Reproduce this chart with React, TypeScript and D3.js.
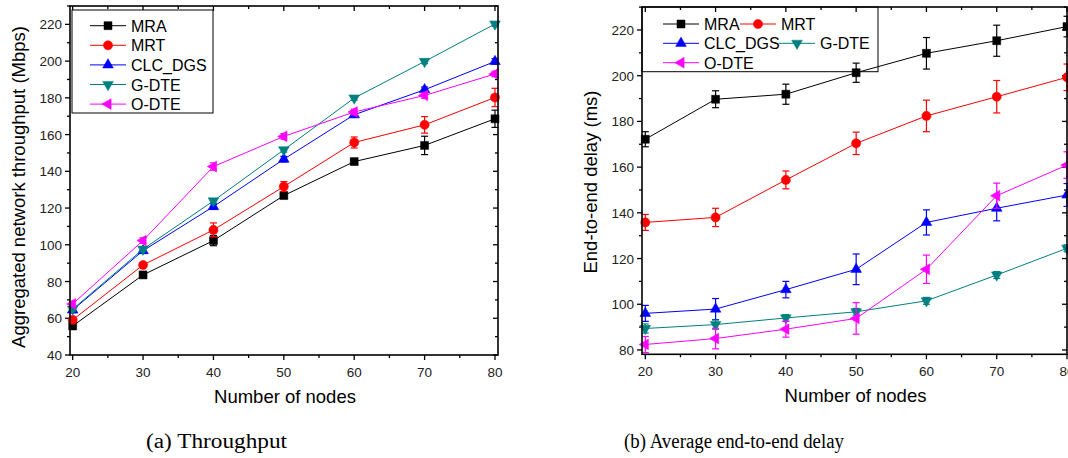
import React from "react";
import * as d3 from "d3";

// ---------- data ----------
const nodes = [20, 30, 40, 50, 60, 70, 80];
const seriesNames = ["MRA", "MRT", "CLC_DGS", "G-DTE", "O-DTE"];
const seriesColors = ["#000000", "#ff0000", "#0000ff", "#008080", "#ff00ff"];
const seriesShapes = ["square", "circle", "up", "down", "left"];

// Throughput (Mbps)
const thrMRA = [55.8, 83.6, 102.3, 126.8, 145.3, 154.1, 168.6];
const thrMRT = [59.1, 89.0, 108.1, 131.7, 155.7, 165.3, 180.2];
const thrCLC = [64.5, 96.8, 120.8, 146.6, 170.8, 184.4, 199.8];
const thrGDTE = [65.0, 97.6, 123.9, 151.7, 179.9, 199.8, 220.2];
const thrODTE = [67.8, 102.3, 142.6, 159.0, 172.3, 181.3, 193.0];
const thrErrMRA = [1.5, 1.5, 2.8, 1.2, 1.0, 5.0, 4.7];
const thrErrMRT = [1.5, 1.2, 3.8, 2.7, 3.0, 4.5, 5.0];
const thrErrCLC = [1.5, 1.5, 1.5, 1.5, 1.5, 1.5, 1.5];
const thrErrGDTE = [1.2, 1.2, 1.2, 1.2, 1.2, 1.2, 1.2];
const thrErrODTE = [1.5, 1.5, 2.0, 1.5, 1.5, 1.5, 1.5];

// Delay (ms)
const dlyMRA = [172.2, 189.7, 191.9, 201.3, 209.8, 215.3, 221.5];
const dlyMRT = [135.8, 138.0, 154.4, 170.4, 182.4, 190.8, 199.3];
const dlyCLC = [96.0, 97.9, 106.4, 115.3, 135.8, 142.0, 147.8];
const dlyGDTE = [89.4, 91.1, 94.0, 96.7, 101.5, 112.8, 124.5];
const dlyODTE = [82.4, 85.0, 89.1, 93.8, 115.3, 147.5, 160.9];
const dlyErrMRA = [3.3, 3.7, 4.4, 4.2, 6.9, 6.8, 4.5];
const dlyErrMRT = [3.5, 4.0, 3.9, 4.9, 6.9, 7.1, 5.8];
const dlyErrCLC = [3.5, 4.6, 3.6, 6.7, 5.5, 5.5, 5.0];
const dlyErrGDTE = [2.0, 2.0, 1.5, 1.5, 1.5, 1.5, 1.5];
const dlyErrODTE = [3.5, 4.5, 3.5, 6.9, 6.2, 5.5, 5.8];

const thrValues = [thrMRA, thrMRT, thrCLC, thrGDTE, thrODTE];
const thrErrors = [thrErrMRA, thrErrMRT, thrErrCLC, thrErrGDTE, thrErrODTE];
const dlyValues = [dlyMRA, dlyMRT, dlyCLC, dlyGDTE, dlyODTE];
const dlyErrors = [dlyErrMRA, dlyErrMRT, dlyErrCLC, dlyErrGDTE, dlyErrODTE];

const thrYTicks = [40, 60, 80, 100, 120, 140, 160, 180, 200, 220];
const dlyYTicks = [80, 100, 120, 140, 160, 180, 200, 220];
const xTicks = [20, 30, 40, 50, 60, 70, 80];

const FONT = "'Liberation Sans', Arial, Helvetica, sans-serif";
const SERIF = "'Liberation Serif', 'Times New Roman', serif";

function markerPath(shape: string) {
  if (shape === "square") return d3.symbol(d3.symbolSquare, 64)() as string;
  if (shape === "circle") return d3.symbol(d3.symbolCircle, 66)() as string;
  return d3.symbol(d3.symbolTriangle, 50)() as string;
}
function markerRot(shape: string) {
  if (shape === "down") return 180;
  if (shape === "left") return -90;
  return 0;
}

function Marker({ x, y, i }: { x: number; y: number; i: number }) {
  const shape = seriesShapes[i];
  return (
    <path
      d={markerPath(shape)}
      transform={`translate(${x},${y}) rotate(${markerRot(shape)})`}
      fill={seriesColors[i]}
      stroke={seriesColors[i]}
      strokeWidth={0.5}
    />
  );
}

type ChartProps = {
  left: number; top: number; right: number; bottom: number;
  xDomain: [number, number]; yDomain: [number, number];
  yTicks: number[]; yMinorStep: number;
  values: number[][]; errors: number[][];
  yTitle: string; yTitleX: number; yTitleY: number;
  legend: React.ReactNode;
};

function Chart(p: ChartProps) {
  const x = d3.scaleLinear().domain(p.xDomain).range([p.left, p.right]);
  const y = d3.scaleLinear().domain(p.yDomain).range([p.bottom, p.top]);
  const xMinor = d3.range(20, 81, 5);
  const yMinor = d3.range(p.yDomain[0] - (p.yDomain[0] % p.yMinorStep), p.yDomain[1] + 0.001, p.yMinorStep)
    .filter((v) => v >= p.yDomain[0] && v <= p.yDomain[1]);
  const isMajorX = (v: number) => v % 10 === 0;
  const isMajorY = (v: number) => p.yTicks.includes(v);
  const line = d3.line<number>().x((_, k) => x(nodes[k])).y((v) => y(v));
  return (
    <g>
      {xMinor.map((v) => {
        const L = isMajorX(v) ? 5 : 3;
        return (
          <g key={"xt" + v}>
            <line x1={x(v)} x2={x(v)} y1={p.bottom} y2={p.bottom + L} stroke="#000" strokeWidth={1.3} />
            <line x1={x(v)} x2={x(v)} y1={p.top} y2={p.top + L} stroke="#000" strokeWidth={1.3} />
          </g>
        );
      })}
      {yMinor.map((v) => {
        const L = isMajorY(v) ? 5 : 3;
        return (
          <g key={"yt" + v}>
            <line x1={p.left - L} x2={p.left} y1={y(v)} y2={y(v)} stroke="#000" strokeWidth={1.3} />
            <line x1={p.right - L} x2={p.right} y1={y(v)} y2={y(v)} stroke="#000" strokeWidth={1.3} />
          </g>
        );
      })}
      {xTicks.map((v) => (
        <text key={"xl" + v} x={x(v)} y={p.bottom + 22} textAnchor="middle" fontFamily={FONT} fontSize={13.5} fill="#222">
          {v}
        </text>
      ))}
      {p.yTicks.map((v) => (
        <text key={"yl" + v} x={p.left - 8} y={y(v) + 5} textAnchor="end" fontFamily={FONT} fontSize={13.5} fill="#222">
          {v}
        </text>
      ))}
      <text x={(p.left + p.right) / 2 + 1} y={p.bottom + 48} textAnchor="middle" fontFamily={FONT} fontSize={18.5} fill="#000">
        Number of nodes
      </text>
      <text transform={`translate(${p.yTitleX},${p.yTitleY}) rotate(-90)`} textAnchor="middle" fontFamily={FONT} fontSize={18.5} fill="#000">
        {p.yTitle}
      </text>
      {p.legend}
      {p.values.map((vals, i) => (
        <g key={"s" + i}>
          <path d={line(vals) as string} fill="none" stroke={seriesColors[i]} strokeWidth={1} />
          {vals.map((v, k) => {
            const e = p.errors[i][k];
            const cx = x(nodes[k]);
            return (
              <g key={k}>
                <line x1={cx} x2={cx} y1={y(v - e)} y2={y(v + e)} stroke={seriesColors[i]} strokeWidth={1.2} />
                <line x1={cx - 3.5} x2={cx + 3.5} y1={y(v - e)} y2={y(v - e)} stroke={seriesColors[i]} strokeWidth={1.2} />
                <line x1={cx - 3.5} x2={cx + 3.5} y1={y(v + e)} y2={y(v + e)} stroke={seriesColors[i]} strokeWidth={1.2} />
                <Marker x={cx} y={y(v)} i={i} />
              </g>
            );
          })}
        </g>
      ))}
      <rect x={p.left} y={p.top} width={p.right - p.left} height={p.bottom - p.top} fill="none" stroke="#000" strokeWidth={1.6} />
    </g>
  );
}

function LegendEntry({ i, x0, yc }: { i: number; x0: number; yc: number }) {
  return (
    <g>
      <line x1={x0} x2={x0 + 36} y1={yc} y2={yc} stroke={seriesColors[i]} strokeWidth={1} />
      <Marker x={x0 + 18} y={yc} i={i} />
      <text x={x0 + 41} y={yc + 6} fontFamily={FONT} fontSize={16} fill="#000">
        {seriesNames[i]}
      </text>
    </g>
  );
}

export default function App() {
  const leftLegend = (
    <g>
      <rect x={72} y={10} width={141} height={103} fill="#fff" stroke="#000" strokeWidth={1} />
      {seriesNames.map((_, i) => (
        <LegendEntry key={i} i={i} x0={90} yc={25.7 + i * 19.6} />
      ))}
    </g>
  );
  const rightLegend = (
    <g>
      <rect x={642} y={7} width={236} height={64.7} fill="none" stroke="#000" strokeWidth={1} />
      <LegendEntry i={0} x0={663} yc={24} />
      <LegendEntry i={1} x0={740} yc={24} />
      <LegendEntry i={2} x0={663} yc={43.3} />
      <LegendEntry i={3} x0={779} yc={43.3} />
      <LegendEntry i={4} x0={663} yc={62.7} />
    </g>
  );
  return (
    <svg width={1068} height={458} style={{ position: "absolute", left: 0, top: 0, background: "#fff" }}>
      <rect x={0} y={0} width={1068} height={458} fill="#fff" />
      <Chart
        left={70} top={6} right={498} bottom={355}
        xDomain={[19.62, 80.43]} yDomain={[40, 230]}
        yTicks={thrYTicks} yMinorStep={10}
        values={thrValues} errors={thrErrors}
        yTitle="Aggregated network throughput (Mbps)" yTitleX={25} yTitleY={187}
        legend={leftLegend}
      />
      <Chart
        left={642} top={7} right={1067} bottom={354.3}
        xDomain={[19.53, 80.0]} yDomain={[78.1, 230.06]}
        yTicks={dlyYTicks} yMinorStep={10}
        values={dlyValues} errors={dlyErrors}
        yTitle="End-to-end delay (ms)" yTitleX={597} yTitleY={182}
        legend={rightLegend}
      />
      <text x={146} y={448} fontFamily={SERIF} fontSize={20} textLength={141} lengthAdjust="spacingAndGlyphs" fill="#000">
        (a) Throughput
      </text>
      <text x={624} y={448} fontFamily={SERIF} fontSize={20} textLength={220} lengthAdjust="spacingAndGlyphs" fill="#000">
        (b) Average end-to-end delay
      </text>
    </svg>
  );
}
